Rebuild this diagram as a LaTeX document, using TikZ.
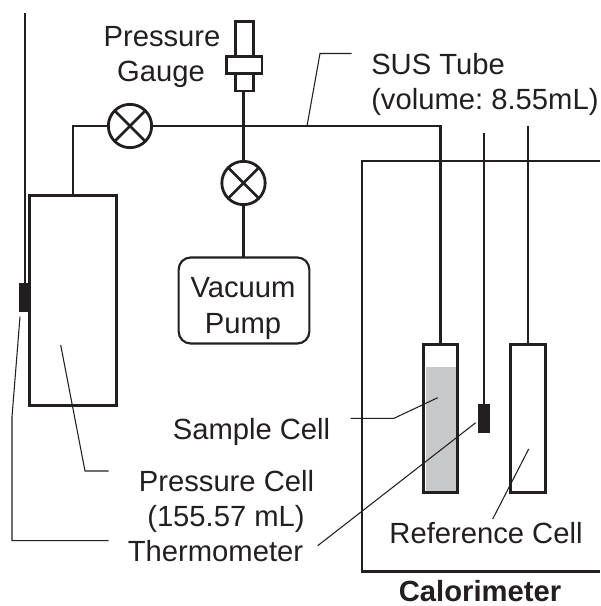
\documentclass[tikz,border=0pt]{standalone}
\usepackage{fontspec}
\setmainfont{Liberation Sans}
\definecolor{ink}{HTML}{231F20}
\definecolor{liquid}{HTML}{C6C8CA}
\tikzset{
  x=0.75pt,y=-0.75pt,
  pipe/.style={draw=ink,line width=2.1pt},
  wire/.style={draw=ink,line width=1.75pt},
  leader/.style={draw=ink,line width=0.8pt},
  vessel/.style={draw=ink,line width=2.1pt,fill=white,inner sep=0pt,outer sep=0pt},
  sensor/.style={fill=ink,inner sep=0pt,outer sep=0pt,minimum width=8.5pt,minimum height=21.75pt},
  valve/.style={circle,draw=ink,line width=2.1pt,fill=white,inner sep=0pt,outer sep=0pt,minimum size=32.5pt,
    path picture={\draw[ink,line width=1.9pt]
      (path picture bounding box.south west)--(path picture bounding box.north east)
      (path picture bounding box.north west)--(path picture bounding box.south east);}},
  lab/.style={text=ink,font=\fontsize{21.9pt}{24pt}\selectfont,anchor=base,inner sep=0pt},
  labl/.style={lab,anchor=base west},
}
\begin{document}
\begin{tikzpicture}
\useasboundingbox (0,0) rectangle (600,606);
\fill[white] (0,0) rectangle (600,606);

% calorimeter
\coordinate (calTR) at (600,161);
\coordinate (calTL) at (362,161);
\coordinate (calBL) at (362,571.5);
\coordinate (calBR) at (600,571.5);
\draw[pipe,line cap=butt,line join=miter] (calTR)--(calTL)--(calBL)--(calBR);

% vessels
\node[vessel,minimum width=65.5pt,minimum height=157.5pt] (pcell) at (73.2,300.7) {};
\node[vessel,minimum width=26pt,minimum height=110.5pt] (scell) at (440.5,418.5) {};
\fill[liquid] (425.5,367) rectangle (455.5,491.5);
\draw[pipe] (scell.north west) rectangle (scell.south east);
\node[vessel,minimum width=26pt,minimum height=110.5pt] (rcell) at (528,418.5) {};
\node[vessel,minimum width=98pt,minimum height=64.5pt,rounded corners=9pt,line width=1.6pt] (pump) at (244,300.5) {};
\node[lab] (pumpa) at (243,297) {Vacuum};
\node[lab] (pumpb) at (243,333) {Pump};

% valves
\node[valve] (v1) at (130,126) {};
\node[valve] (v2) at (243.5,183) {};

% gauge
\node[vessel,line width=1.9pt,minimum width=13.5pt,minimum height=52pt] (gbody) at (244.3,56.2) {};
\node[vessel,line width=1.9pt,minimum width=26.5pt,minimum height=13pt] (gflange) at (244.3,65) {};

% tubes
\coordinate (pcTop) at (73,195.5);
\coordinate (jn) at (243.5,126);
\coordinate (corner) at (73,126);
\coordinate (tubeCorner) at (440.5,126);
\draw[pipe] (pcTop)--(corner)--(v1.west);
\draw[pipe,line join=miter] (v1.east)--(tubeCorner)--(scell.north);
\draw[wire,line width=1.9pt] (gbody.south -| jn)--(v2.north);
\draw[wire,line width=1.9pt] (v2.south)--(pump.north -| v2);

% thermometers
\coordinate (t1top) at (25,13);
\node[sensor] (t1) at (25,297.5) {};
\draw[wire] (t1top)--(t1.north);
\coordinate (t2top) at (484,133);
\node[sensor] (t2) at (484,418.5) {};
\draw[wire] (t2top)--(t2.north);
\coordinate (rtop) at (528,126);
\draw[wire] (rtop)--(rcell.north);

% labels
\node[lab] (lp) at (162,46.7) {Pressure};
\node[lab] (lg) at (161,81.7) {Gauge};
\node[labl] (ls) at (371,74.5) {SUS Tube};
\node[labl] (lv) at (371,110) {(volume:\kern-2pt{} 8.55mL)};
\node[lab] (lsc) at (251.5,439) {Sample Cell};
\node[lab] (lpc) at (226.5,491.7) {Pressure Cell};
\node[lab] (lvol) at (226,526.7) {(155.57 mL)};
\node[lab] (lth) at (215.5,561.7) {Thermometer};
\node[lab] (lrc) at (486,543) {Reference Cell};
\node[lab,font=\fontsize{21.9pt}{24pt}\selectfont\bfseries] (lcal) at (480,601.7) {Calorimeter};

% leaders
\coordinate (a1) at (307,126);
\coordinate (a2) at (320,53.5);
\coordinate (a3) at (351.5,53.5);
\draw[leader] (a1)--(a2)--(a3);
\coordinate (b1) at (20,316.7);
\coordinate (b2) at (12,416.7);
\coordinate (b3) at (12,540.7);
\coordinate (b4) at (108.7,540.7);
\draw[leader] (b1)--(b2)--(b3)--(b4);
\coordinate (c1) at (60.7,345);
\coordinate (c2) at (85,471);
\coordinate (c3) at (108.7,471);
\draw[leader] (c1)--(c2)--(c3);
\coordinate (d1) at (437.7,397.7);
\coordinate (d2) at (394,418.3);
\coordinate (d3) at (350.7,418.3);
\draw[leader] (d1)--(d2)--(d3);
\coordinate (e1) at (475.7,422.7);
\coordinate (e2) at (317.7,545.7);
\draw[leader] (e1)--(e2);
\coordinate (f1) at (528.7,449);
\coordinate (f2) at (492.7,519);
\draw[leader] (f1)--(f2);
\end{tikzpicture}
\end{document}
